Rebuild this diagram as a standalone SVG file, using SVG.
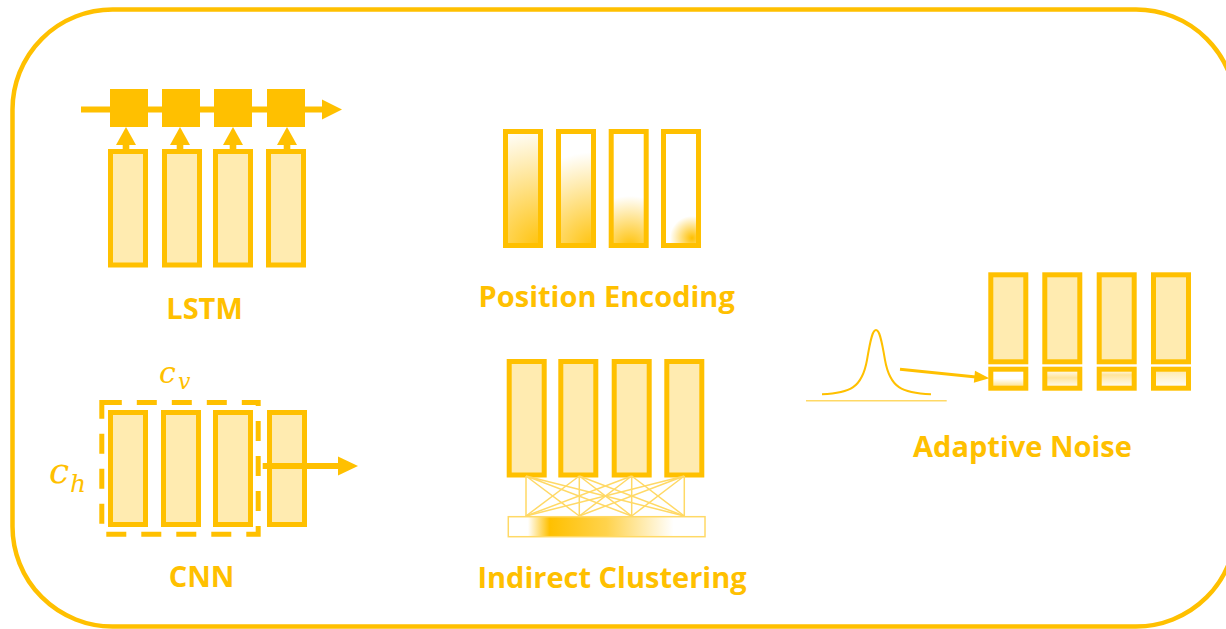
<svg xmlns="http://www.w3.org/2000/svg" width="1226" height="629" viewBox="0 0 1226 629">
  <style>
    .cell { fill: #FFEBB0; stroke: #FFC000; stroke-width: 5; }
    .edge { fill: none; stroke: #FFC000; stroke-width: 5; }
    .solid { fill: #FFC000; }
    .thin { fill: none; stroke: #FFD966; stroke-width: 1.5; }
    .label { font-family: "Open Sans", "Liberation Sans", sans-serif; font-weight: bold; font-size: 29px; fill: #FFC000; text-anchor: middle; }
    .math { font-family: "DejaVu Serif", "Liberation Serif", serif; font-style: italic; fill: #FFC000; }
  </style>
  <defs>
    <radialGradient id="pe1" gradientUnits="userSpaceOnUse" cx="545" cy="250" r="125">
      <stop offset="0" stop-color="#FFC000"/>
      <stop offset="1" stop-color="#FFFFFF"/>
    </radialGradient>
    <radialGradient id="pe2" gradientUnits="userSpaceOnUse" cx="596" cy="250" r="98">
      <stop offset="0" stop-color="#FFC000"/>
      <stop offset="1" stop-color="#FFFFFF"/>
    </radialGradient>
    <radialGradient id="pe3" gradientUnits="userSpaceOnUse" cx="630" cy="248" r="52">
      <stop offset="0" stop-color="#FFC000"/>
      <stop offset="1" stop-color="#FFFFFF"/>
    </radialGradient>
    <radialGradient id="pe4" gradientUnits="userSpaceOnUse" cx="692" cy="238" r="22">
      <stop offset="0" stop-color="#FFC000"/>
      <stop offset="1" stop-color="#FFFFFF"/>
    </radialGradient>
    <linearGradient id="cluster" x1="0" y1="0" x2="1" y2="0">
      <stop offset="0" stop-color="#FFFFFF"/>
      <stop offset="0.1" stop-color="#FFFFFF"/>
      <stop offset="0.21" stop-color="#FFC000"/>
      <stop offset="0.5" stop-color="#FFD34D"/>
      <stop offset="0.84" stop-color="#FFFFFF"/>
      <stop offset="1" stop-color="#FFFFFF"/>
    </linearGradient>
    <linearGradient id="nz1" x1="0" y1="0" x2="0" y2="1">
      <stop offset="0" stop-color="#FFFFFF"/>
      <stop offset="0.5" stop-color="#FFFFFF"/>
      <stop offset="0.9" stop-color="#FFE38F"/>
      <stop offset="1" stop-color="#FFF3D0"/>
    </linearGradient>
    <linearGradient id="nz2" x1="0" y1="0" x2="0" y2="1">
      <stop offset="0" stop-color="#FFFFFF"/>
      <stop offset="0.45" stop-color="#FFE49A"/>
      <stop offset="1" stop-color="#FFFFFF"/>
    </linearGradient>
    <linearGradient id="nz3" x1="0" y1="0" x2="0" y2="1">
      <stop offset="0" stop-color="#FFFFFF"/>
      <stop offset="0.3" stop-color="#FFE49A"/>
      <stop offset="1" stop-color="#FFFFFF"/>
    </linearGradient>
    <linearGradient id="nz4" x1="0" y1="0" x2="0" y2="1">
      <stop offset="0" stop-color="#FFE9A8"/>
      <stop offset="1" stop-color="#FFFFFF"/>
    </linearGradient>
  </defs>

  <!-- outer frame -->
  <rect x="12.5" y="9.5" width="1223.5" height="617" rx="100" fill="none" stroke="#FFC000" stroke-width="4.5"/>

  <!-- LSTM -->
  <g id="lstm">
    <rect x="81" y="106.5" width="243" height="6" class="solid"/>
    <polygon points="322,99.5 342,109.5 322,119.5" class="solid"/>
    <rect x="110" y="89" width="38" height="38" class="solid"/>
    <rect x="162" y="89" width="38" height="38" class="solid"/>
    <rect x="214" y="89" width="38" height="38" class="solid"/>
    <rect x="267" y="89" width="38" height="38" class="solid"/>
    <rect x="110.5" y="151.5" width="35" height="113.5" class="cell"/>
    <rect x="164.5" y="151.5" width="35" height="113.5" class="cell"/>
    <rect x="215.5" y="151.5" width="35" height="113.5" class="cell"/>
    <rect x="268.5" y="151.5" width="35" height="113.5" class="cell"/>
    <g class="solid">
      <rect x="122.7" y="144" width="6.6" height="6"/>
      <polygon points="116,145 126,127 136,145"/>
      <rect x="176.7" y="144" width="6.6" height="6"/>
      <polygon points="170,145 180,127 190,145"/>
      <rect x="229.7" y="144" width="6.6" height="6"/>
      <polygon points="223,145 233,127 243,145"/>
      <rect x="283.7" y="144" width="6.6" height="6"/>
      <polygon points="277,145 287,127 297,145"/>
    </g>
    <text x="204.5" y="318.5" class="label">LSTM</text>
  </g>

  <!-- Position Encoding -->
  <g id="position-encoding">
    <rect x="505.5" y="131.5" width="35" height="114" fill="url(#pe1)" stroke="#FFC000" stroke-width="5"/>
    <rect x="558.5" y="131.5" width="35" height="114" fill="url(#pe2)" stroke="#FFC000" stroke-width="5"/>
    <rect x="611.2" y="131.5" width="35" height="114" fill="url(#pe3)" stroke="#FFC000" stroke-width="5"/>
    <rect x="663.5" y="131.5" width="35" height="114" fill="url(#pe4)" stroke="#FFC000" stroke-width="5"/>
    <text x="606.7" y="306.7" class="label">Position Encoding</text>
  </g>

  <!-- CNN -->
  <g id="cnn">
    <rect x="110.5" y="412.5" width="35" height="112" class="cell"/>
    <rect x="163.5" y="412.5" width="35" height="112" class="cell"/>
    <rect x="215.5" y="412.5" width="35" height="112" class="cell"/>
    <rect x="269.5" y="412.5" width="35" height="112" class="cell"/>
    <rect x="101.8" y="402.5" width="156.4" height="131.7" class="edge" stroke-dasharray="20 15"/>
    <rect x="262.7" y="463" width="77" height="6" class="solid"/>
    <polygon points="338,456.5 358,466 338,475.5" class="solid"/>
    <text x="159" y="383" class="math" font-size="30">c</text>
    <text x="178" y="389" class="math" font-size="22">v</text>
    <text x="49" y="483" class="math" font-size="36">c</text>
    <text x="70" y="492" class="math" font-size="25">h</text>
    <text x="201.5" y="587" class="label">CNN</text>
  </g>

  <!-- Indirect Clustering -->
  <g id="indirect-clustering">
    <rect x="509.2" y="361.5" width="35" height="113.5" class="cell"/>
    <rect x="560.8" y="361.5" width="35" height="113.5" class="cell"/>
    <rect x="614.2" y="361.5" width="35" height="113.5" class="cell"/>
    <rect x="666.8" y="361.5" width="35" height="113.5" class="cell"/>
    <g class="thin">
      <path d="M526,476 L526,516 M526,476 L579.3,516 M526,476 L631.7,516 M526,476 L684.3,516"/>
      <path d="M579.3,476 L526,516 M579.3,476 L579.3,516 M579.3,476 L631.7,516 M579.3,476 L684.3,516"/>
      <path d="M631.7,476 L526,516 M631.7,476 L579.3,516 M631.7,476 L631.7,516 M631.7,476 L684.3,516"/>
      <path d="M684.3,476 L526,516 M684.3,476 L579.3,516 M684.3,476 L631.7,516 M684.3,476 L684.3,516"/>
    </g>
    <rect x="508.3" y="516.7" width="196.7" height="20" fill="url(#cluster)" stroke="#FFD966" stroke-width="1.5"/>
    <text x="612" y="588" class="label">Indirect Clustering</text>
  </g>

  <!-- Adaptive Noise -->
  <g id="adaptive-noise">
    <path d="M806,400.7 L946.7,400.7" class="thin"/>
    <path d="M822,394.3 C850,393 862,388 867,360 C871,336 873,330 876,330 C879,330 881,336 885,360 C890,388 902,393 931,394.3" fill="none" stroke="#FFC000" stroke-width="2"/>
    <rect x="990.8" y="274.8" width="35" height="87" class="cell"/>
    <rect x="1044.8" y="274.8" width="35" height="87" class="cell"/>
    <rect x="1099.2" y="274.8" width="35" height="87" class="cell"/>
    <rect x="1153.5" y="274.8" width="35" height="87" class="cell"/>
    <rect x="990.8" y="369.2" width="35" height="19" fill="url(#nz1)" stroke="#FFC000" stroke-width="5"/>
    <rect x="1044.8" y="369.2" width="35" height="19" fill="url(#nz2)" stroke="#FFC000" stroke-width="5"/>
    <rect x="1099.2" y="369.2" width="35" height="19" fill="url(#nz3)" stroke="#FFC000" stroke-width="5"/>
    <rect x="1153.5" y="369.2" width="35" height="19" fill="url(#nz4)" stroke="#FFC000" stroke-width="5"/>
    <line x1="900" y1="369.3" x2="976" y2="377" stroke="#FFC000" stroke-width="3"/>
    <polygon points="975,370.8 989.3,378.3 973.8,382.8" class="solid"/>
    <text x="1022.5" y="457" class="label">Adaptive Noise</text>
  </g>
</svg>
